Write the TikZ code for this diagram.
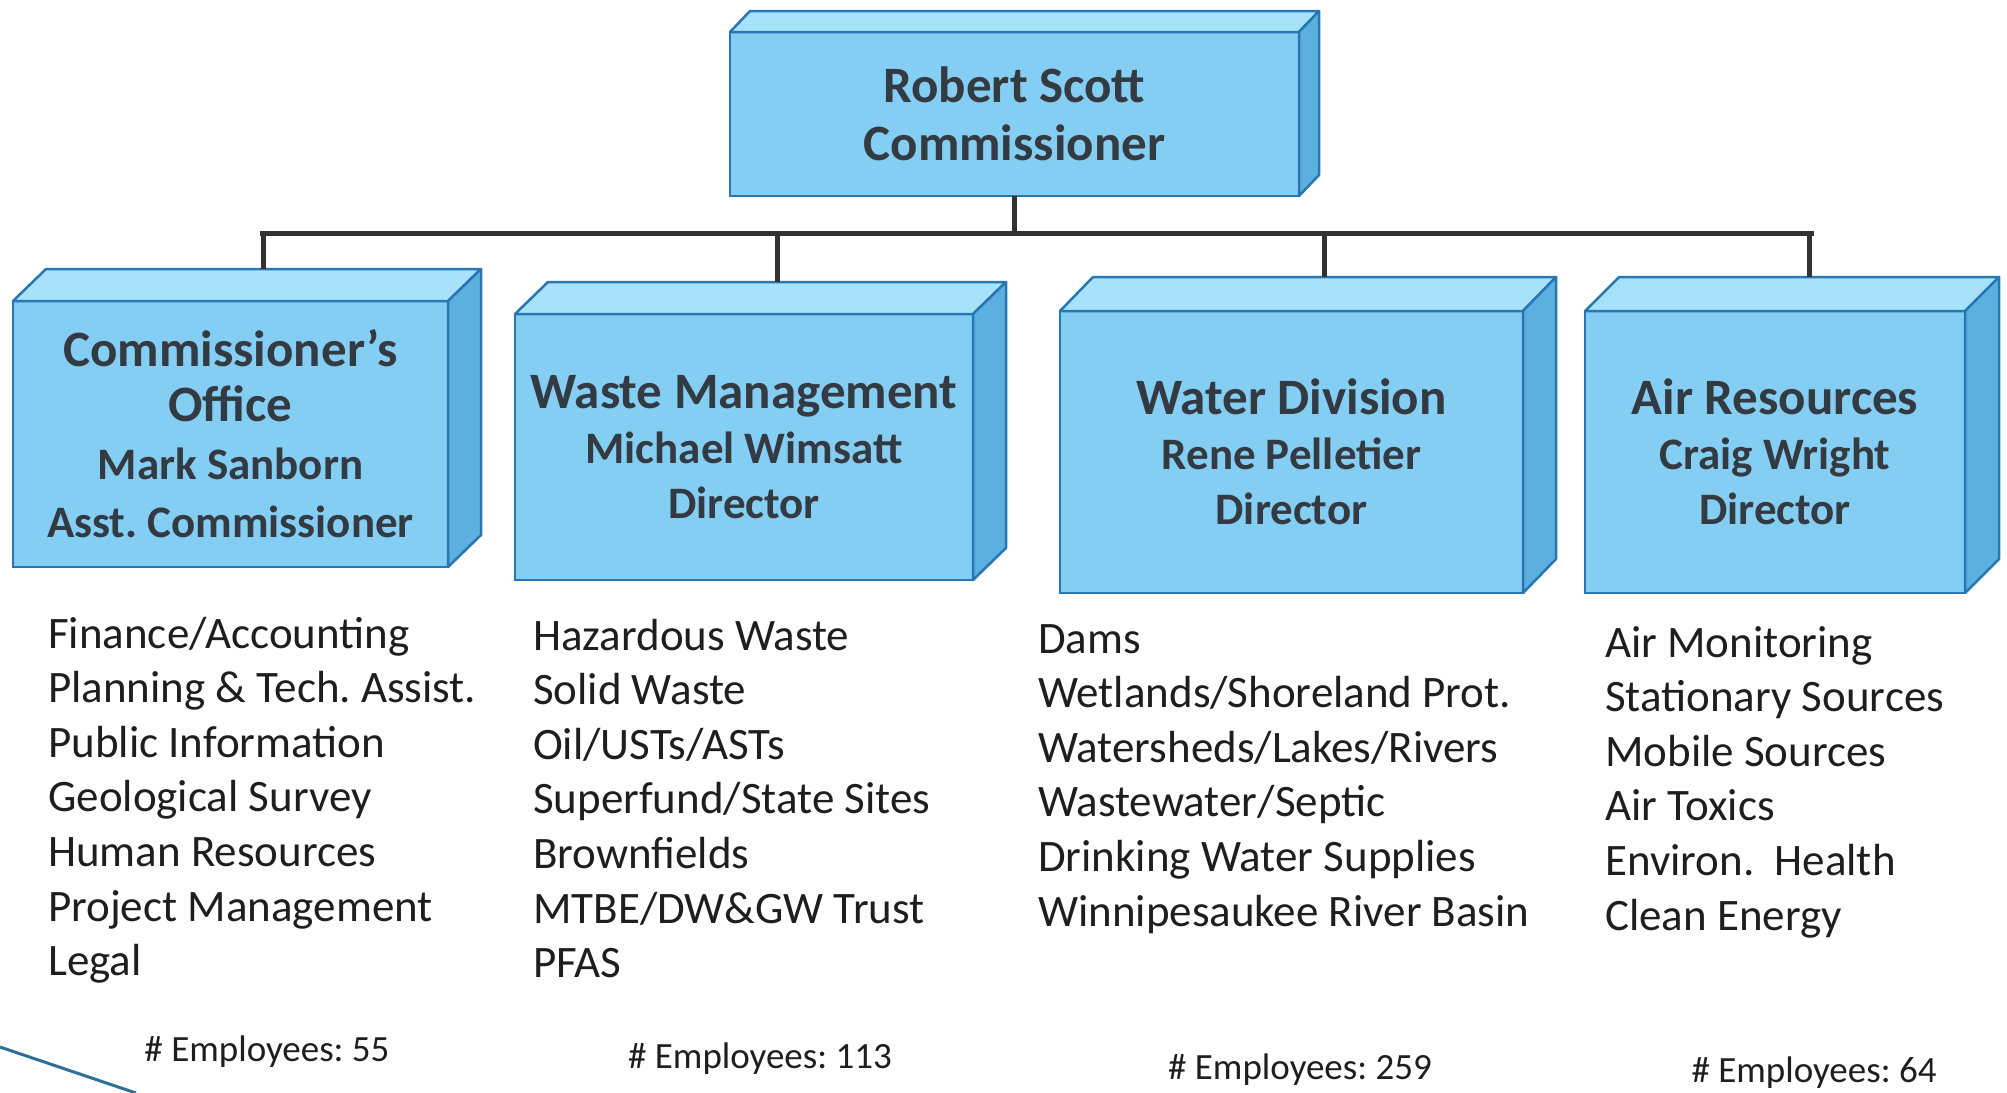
\documentclass[tikz,border=0pt]{standalone}
\usepackage{fontspec}
\setmainfont{Carlito}
\frenchspacing
\definecolor{frontc}{RGB}{132,206,244}
\definecolor{topc}{RGB}{168,226,250}
\definecolor{sidec}{RGB}{92,176,224}
\definecolor{edgec}{RGB}{40,118,178}
\definecolor{boxtxt}{RGB}{52,58,66}
\definecolor{listtxt}{RGB}{30,30,30}
\definecolor{linec}{RGB}{50,50,50}
\definecolor{tealc}{RGB}{46,112,150}
\newcommand\titlef{\fontsize{51}{61}\selectfont}
\newcommand\namef{\fontsize{45}{55}\selectfont}
% draws top and right faces of a 3D box on front node #1 with depth (#2,#3)
\newcommand\drawcube[3]{%
  \filldraw[topc,draw=edgec,line width=2.5pt,line join=round]
    (#1.north west) -- ++(#2,-#3) -- ([shift={(#2,-#3)}]#1.north east) -- (#1.north east) -- cycle;
  \filldraw[sidec,draw=edgec,line width=2.5pt,line join=round]
    (#1.north east) -- ++(#2,-#3) -- ([shift={(#2,-#3)}]#1.south east) -- (#1.south east) -- cycle;
  \coordinate (#1bk) at ([shift={(#2,-#3)}]#1.north);
}
\tikzset{
  front/.style={draw=edgec,fill=frontc,line width=2.5pt,rectangle,outer sep=0pt,inner sep=0pt,
     align=center,text=boxtxt,font=\namef\bfseries},
  listtext/.style={anchor=base west,align=left,inner sep=0pt,text=listtxt,
     font=\fontsize{45}{54.6}\selectfont},
  emp/.style={anchor=center,inner sep=0pt,text=listtxt,font=\fontsize{37}{44}\selectfont},
  conn/.style={draw=linec,line width=5pt}
}
\begin{document}
\begin{tikzpicture}[x=1pt,y=-1pt]
\useasboundingbox (0,0) rectangle (2007,1092);
% top box
\node[front,minimum width=569pt,minimum height=164pt] (top) at (1014.5,114)
  {{\titlef\bfseries Robert Scott}\\[3pt]{\titlef\bfseries Commissioner}};
\node[front,minimum width=435pt,minimum height=266pt] (b1) at (230.5,434)
  {{\titlef\bfseries Commissioner’s}\\{\titlef\bfseries Office}\\[3pt]Mark Sanborn\\[3pt]Asst. Commissioner};
\node[front,minimum width=458pt,minimum height=266pt] (b2) at (744,447)
  {{\titlef\bfseries Waste Management}\\Michael Wimsatt\\Director};
\node[front,minimum width=463pt,minimum height=282pt] (b3) at (1291.5,452)
  {{\titlef\bfseries Water Division}\\Rene Pelletier\\Director};
\node[front,minimum width=380pt,minimum height=282pt] (b4) at (1775,452)
  {{\titlef\bfseries Air Resources}\\Craig Wright\\Director};
\drawcube{top}{20}{21}
\drawcube{b1}{33}{32}
\drawcube{b2}{33}{32}
\drawcube{b3}{33}{34}
\drawcube{b4}{34}{34}
% connectors
\coordinate (busL) at (262,233);
\coordinate (busR) at (1811,233);
\draw[conn] ([xshift=-2.5pt]busL) -- ([xshift=2.5pt]busR);
\draw[conn] (top.south) -- (top.south |- busL);
\draw[conn] (b1bk |- busL) -- (b1bk);
\draw[conn] (b2bk |- busL) -- (b2bk);
\draw[conn] (b3bk |- busL) -- (b3bk);
\draw[conn] (b4bk |- busL) -- (b4bk);
% lists (anchored at the baseline of their last line)
\node[listtext] (l1) at (48,975.6) {Finance/Accounting\\Planning \& Tech. Assist.\\Public Information\\Geological Survey\\Human Resources\\Project Management\\Legal};
\node[listtext] (l2) at (533,977.6) {Hazardous Waste\\Solid Waste\\Oil/USTs/ASTs\\Superfund/State Sites\\Brownfields\\MTBE/DW\&GW Trust\\PFAS};
\node[listtext] (l3) at (1038,926) {Dams\\Wetlands/Shoreland Prot.\\Watersheds/Lakes/Rivers\\Wastewater/Septic\\Drinking Water Supplies\\Winnipesaukee River Basin};
\node[listtext] (l4) at (1605,930) {Air Monitoring\\Stationary Sources\\Mobile Sources\\Air Toxics\\Environ.\ \ Health\\Clean Energy};
% employees
\node[emp] (e1) at (267,1052) {\# Employees: 55};
\node[emp] (e2) at (760,1059) {\# Employees: 113};
\node[emp] (e3) at (1300,1070) {\# Employees: 259};
\node[emp] (e4) at (1814,1073) {\# Employees: 64};
% corner line
\coordinate (c1) at (0,1047);
\coordinate (c2) at (136,1093);
\draw[tealc,line width=3pt] (c1) -- (c2);
\end{tikzpicture}
\end{document}
